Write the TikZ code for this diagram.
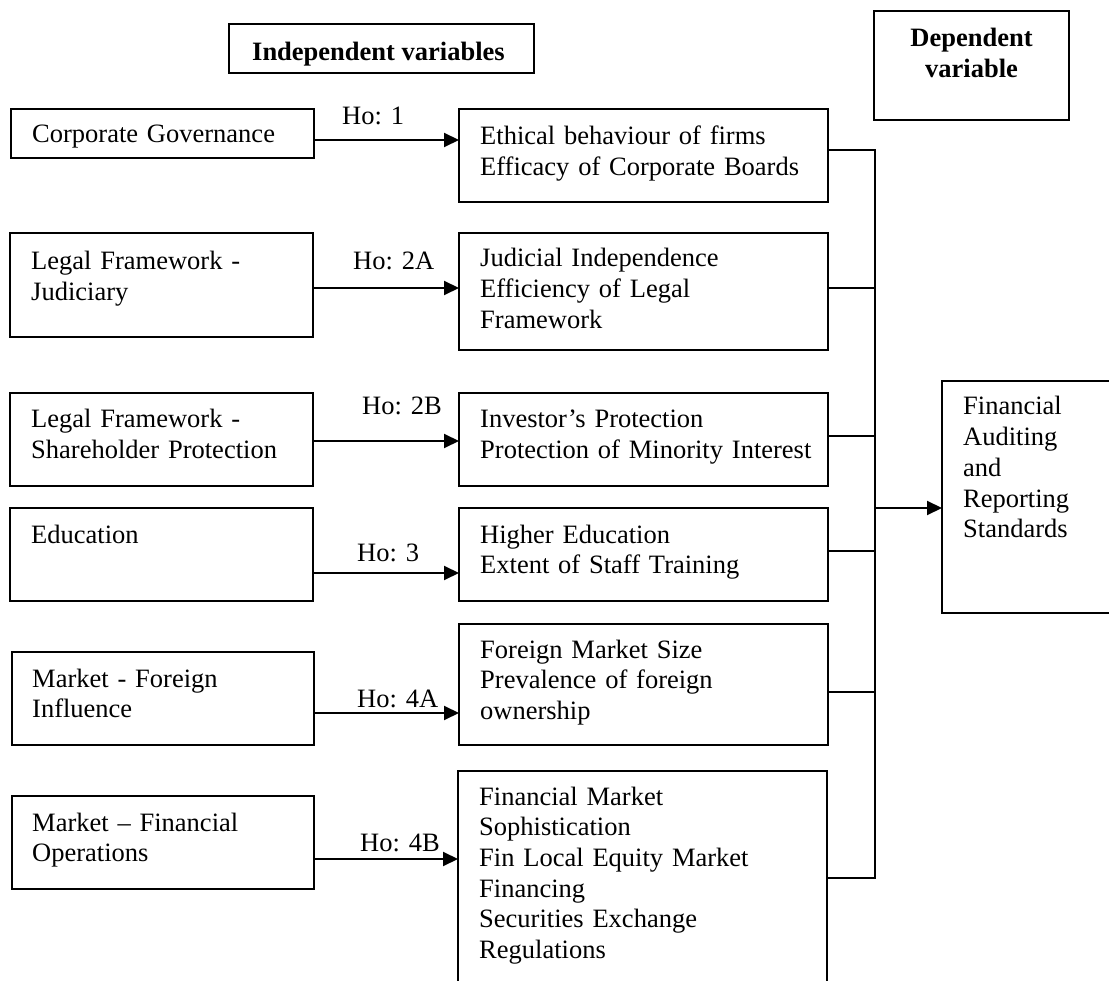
\documentclass[tikz,border=0pt]{standalone}
\usepackage{fontspec}
\setmainfont{Liberation Serif}
\usetikzlibrary{arrows.meta}
\begin{document}
\begin{tikzpicture}[x=1pt,y=-1pt,
  box/.style={draw, line width=2pt, rectangle, inner sep=0pt, outer sep=0pt, anchor=north west},
  txt/.style={inner sep=0pt, anchor=base west, text width=380pt, align=left, font=\fontsize{26.5}{30.7}\selectfont},
  hdr/.style={inner sep=0pt, anchor=base west, font=\fontsize{26.5}{30.7}\selectfont\bfseries},
  lab/.style={inner sep=0pt, anchor=base west, font=\fontsize{26.5}{30.7}\selectfont},
  ln/.style={line width=2pt},
  arr/.style={line width=2pt, -{Triangle[length=15pt,width=14pt]}}]
\useasboundingbox (0,0) rectangle (1109,981);
\clip (0,0) rectangle (1109,981);
% headers
\node[box, minimum width=305pt, minimum height=49pt] (IV) at (229,24) {};
\node[hdr] (IVt) at (252,61) {Independent variables};
\node[box, minimum width=195pt, minimum height=109pt] (DV) at (874,11) {};
\node[hdr, anchor=base, align=center, text width=195pt] (DVt) at (971.5,47) {Dependent\\variable};
% left column
\node[box, minimum width=303pt, minimum height=49pt] (L1) at (11,109) {};
\node[box, minimum width=303pt, minimum height=104pt] (L2) at (10,233) {};
\node[box, minimum width=303pt, minimum height=93pt] (L3) at (10,393) {};
\node[box, minimum width=303pt, minimum height=93pt] (L4) at (10,508) {};
\node[box, minimum width=302pt, minimum height=93pt] (L5) at (12,652) {};
\node[box, minimum width=302pt, minimum height=93pt] (L6) at (12,796) {};
\node[txt] (L1t) at (32,143) {Corporate Governance};
\node[txt] (L2t) at (31,270) {Legal Framework -\\Judiciary};
\node[txt] (L3t) at (31,428) {Legal Framework -\\Shareholder Protection};
\node[txt] (L4t) at (31,543) {Education};
\node[txt] (L5t) at (32,687) {Market - Foreign\\Influence};
\node[txt] (L6t) at (32,831) {Market -- Financial\\Operations};
% middle column
\node[box, minimum width=369pt, minimum height=93pt] (M1) at (459,109) {};
\node[box, minimum width=369pt, minimum height=117pt] (M2) at (459,233) {};
\node[box, minimum width=369pt, minimum height=93pt] (M3) at (459,393) {};
\node[box, minimum width=369pt, minimum height=93pt] (M4) at (459,508) {};
\node[box, minimum width=369pt, minimum height=121pt] (M5) at (459,624) {};
\node[box, minimum width=369pt, minimum height=260pt] (M6) at (458,771) {};
\node[txt] (M1t) at (480,145) {Ethical behaviour of firms\\Efficacy of Corporate Boards};
\node[txt] (M2t) at (480,267) {Judicial Independence\\Efficiency of Legal\\Framework};
\node[txt] (M3t) at (480,428) {Investor’s Protection\\Protection of Minority Interest};
\node[txt] (M4t) at (480,543) {Higher Education\\Extent of Staff Training};
\node[txt] (M5t) at (480,658) {Foreign Market Size\\Prevalence of foreign\\ownership};
\node[txt] (M6t) at (479,805) {Financial Market\\Sophistication\\Fin Local Equity Market\\Financing\\Securities Exchange\\Regulations};
% right box
\node[box, minimum width=200pt, minimum height=232pt] (R) at (942,381) {};
\node[txt] (Rt) at (963,415) {Financial\\Auditing\\and\\Reporting\\Standards};
% arrows left -> middle
\draw[arr] (L1.east |- 0,140) -- (M1.west |- 0,140);
\draw[arr] (L2.east |- 0,288) -- (M2.west |- 0,288);
\draw[arr] (L3.east |- 0,441) -- (M3.west |- 0,441);
\draw[arr] (L4.east |- 0,573) -- (M4.west |- 0,573);
\draw[arr] (L5.east |- 0,713) -- (M5.west |- 0,713);
\draw[arr] (L6.east |- 0,859) -- (M6.west |- 0,859);
\node[lab] (H1) at (342,125) {Ho: 1};
\node[lab] (H2A) at (353,270) {Ho: 2A};
\node[lab] (H2B) at (362,415) {Ho: 2B};
\node[lab] (H3) at (357,561) {Ho: 3};
\node[lab] (H4A) at (357,707) {Ho: 4A};
\node[lab] (H4B) at (360,851) {Ho: 4B};
% bus
\coordinate (bustop) at (875,150);
\coordinate (busbot) at (875,878);
\coordinate (busmid) at (875,508);
\draw[ln] (M1.east |- bustop) -- (bustop) -- (busbot) -- (M6.east |- busbot);
\draw[ln] (M2.east |- 0,288) -- (bustop |- 0,288);
\draw[ln] (M3.east |- 0,436) -- (bustop |- 0,436);
\draw[ln] (M4.east |- 0,551) -- (bustop |- 0,551);
\draw[ln] (M5.east |- 0,692) -- (bustop |- 0,692);
\draw[arr] (busmid) -- (R.west |- busmid);
\end{tikzpicture}
\end{document}
